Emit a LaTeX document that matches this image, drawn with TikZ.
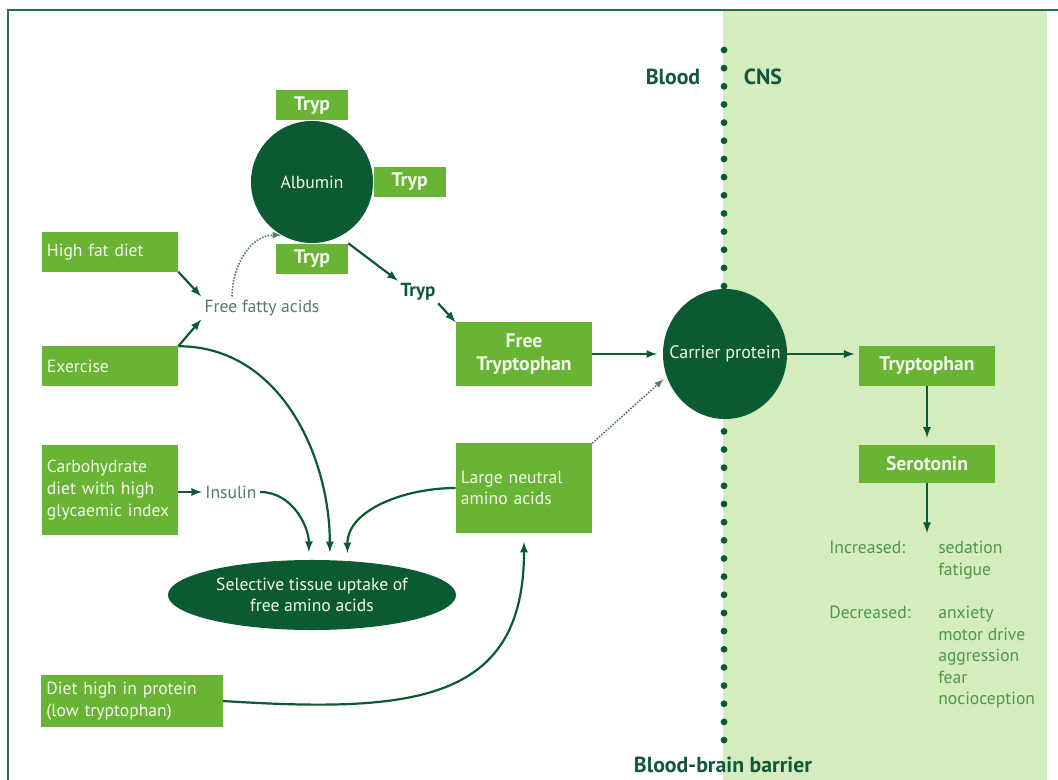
\documentclass[tikz,border=0pt]{standalone}
\usepackage{fontspec}
\setmainfont{PT Sans}
\usepackage{xcolor}
\usetikzlibrary{arrows, shapes.geometric, positioning}
\definecolor{leafgreen}{HTML}{69B335}
\definecolor{pinegreen}{HTML}{0B5A32}
\definecolor{framegreen}{HTML}{2A6E4A}
\definecolor{cnsgreen}{HTML}{D4ECBE}
\definecolor{labelteal}{HTML}{11573D}
\definecolor{mossgrey}{HTML}{557A66}
\definecolor{effectgreen}{HTML}{4C9A48}
\definecolor{boxtext}{HTML}{F2F9EA}
\tikzset{
  % Graph arrow style
  garr/.style={
    line width = 0.55mm
    , draw=pinegreen
  },
  % dotted (weak) arrow style
  darr/.style={
    line width = 0.4mm
    , draw=mossgrey
    , densely dotted
  },
}
\tikzset{
  %green box style
  gbox/.style={
    fill=leafgreen
    , text=boxtext
    , inner xsep=0.125cm
    , inner ysep=0.15cm
    , anchor=center
    , align=left
    , text width=3.15cm
    , minimum height=0.975cm
    , font=\fontsize{12.5}{15.4}\selectfont
  },
  %bold centred box
  tbox/.style={
    gbox
    , align=center
    , font=\bfseries\fontsize{14}{16}\selectfont
  },
  %small tryptophan tag
  tag/.style={
    tbox
    , text width=1.55cm
    , minimum height=0.75cm
    , inner ysep=0.05cm
  },
  %dark protein blob
  blob/.style={
    fill=pinegreen
    , text=boxtext
    , inner sep=0pt
    , align=center
    , font=\fontsize{12.5}{15}\selectfont
  },
  %side labels
  side/.style={
    text=labelteal
    , font=\bfseries\fontsize{15.5}{17}\selectfont
  },
  note/.style={
    text=mossgrey
    , inner sep=0.08cm
    , font=\fontsize{12.5}{15}\selectfont
  },
  fx/.style={
    text=effectgreen
    , anchor=north west
    , align=left
    , inner sep=0pt
    , font=\fontsize{12.5}{15.3}\selectfont
  },
}

\begin{document}
\begin{tikzpicture}[x=0.025cm, y=-0.025cm]
      \useasboundingbox (0,0) rectangle (1058,780);
      \fill[cnsgreen] (723,11) rectangle (1047,780);
      \draw[line width=1.8pt, draw=framegreen] (8,780) -- (8,10) -- (1058,10);

      % barrier dots
      \foreach \i in {0,...,38}
        \fill[pinegreen] (724,50+\i*18.16) circle (0.085cm);

      \node[side] (blood) at (673,77) {Blood};
      \node[side] (cns) at (763,77) {CNS};
      \node[side] (bbb) at (723,765) {Blood-brain barrier};

      % blood side
      \node[blob, circle, minimum size=3.05cm] (alb) at (312,182) {Albumin};
      \node[tag, above=0pt of alb] (tA) {Tryp};
      \node[tag, right=0pt of alb] (tB) {Tryp};
      \node[tag, below=0pt of alb] (tC) {Tryp};

      \node[gbox] (hfd) at (110,252) {High fat diet};
      \node[gbox] (ex) at (110,366) {Exercise};
      \node[gbox, minimum height=2.225cm] (carb) at (110,490) {Carbohydrate\\diet with high\\glycaemic index};
      \node[gbox, text width=4.275cm, minimum height=1.275cm] (prot) at (132,701) {Diet high in protein\\(low tryptophan)};
      \node[gbox, minimum height=2.225cm] (lnaa) at (524,488) {Large neutral\\amino acids};
      \node[tbox, minimum height=1.575cm] (freet) at (524,354) {Free\\Tryptophan};

      \node[note] (ffa) at (262,308) {Free fatty acids};
      \node[note] (ins) at (231,492) {Insulin};
      \node[side, font=\bfseries\fontsize{13.5}{15}\selectfont, inner sep=0.06cm] (tlab) at (418,292) {Tryp};

      \node[blob, ellipse, minimum width=7.2cm, minimum height=1.75cm] (sel) at (312,595) {Selective tissue uptake of\\free amino acids};
      \node[blob, ellipse, inner xsep=-0.45cm, minimum width=3.1cm, minimum height=3.25cm, font=\fontsize{12.8}{15}\selectfont] (car) at (725,354) {Carrier protein};

      % CNS side
      \node[tbox] (tryp) at (927,366) {Tryptophan};
      \node[tbox, minimum height=0.95cm] (sero) at (927,464) {Serotonin};
      \coordinate (eff) at (927,533);

      \node[fx] (inc) at (829,541) {Increased:};
      \node[fx] (incl) at (938,541) {sedation\\fatigue};
      \node[fx] (dec) at (829,606) {Decreased:};
      \node[fx] (decl) at (938,606) {anxiety\\motor drive\\aggression\\fear\\nocioception};

      \draw[garr,>=latex,->] (hfd.south east) -- (ffa.north west);
      \draw[garr,>=latex,->] (ex.north east) -- (ffa.south west);
      \draw[darr,>=latex,->] ([xshift=-0.75cm]ffa.north) to[out=90,in=180] (alb.240);

      \draw[garr,>=latex,->] (tC.north east) -- (tlab.north west);
      \draw[garr,>=latex,->] (tlab.south east) -- (freet.north west);
      \draw[garr,>=latex,->,shorten >=4pt] (freet) -- (car);
      \draw[darr,>=latex,->,shorten >=3pt] (lnaa.north east) -- (car.201);

      \draw[garr,>=latex,->,shorten >=3pt] (car.east) -- (car.east -| tryp.west);
      \draw[garr,>=latex,->,shorten >=5pt] (tryp) -- (sero);
      \draw[garr,>=latex,->] (sero) -- (eff);

      \draw[garr,>=latex,->] (carb.east |- ins.west) -- (ins.west);
      \draw[garr,>=latex,->,shorten >=5.5pt] (ins.east) to[out=0,in=90] (sel.95);
      \draw[garr,>=latex,->,shorten >=5.5pt] (ex.north east) to[out=0,in=90] (sel.63);
      \draw[garr,>=latex,->,shorten >=5.5pt] (lnaa.west) to[out=180,in=90] (sel.44);

      \draw[garr,>=latex,->,shorten >=6.5pt] (prot.east) .. controls +(190,12) and +(0,170) .. (lnaa.south);
    \end{tikzpicture}
\end{document}
